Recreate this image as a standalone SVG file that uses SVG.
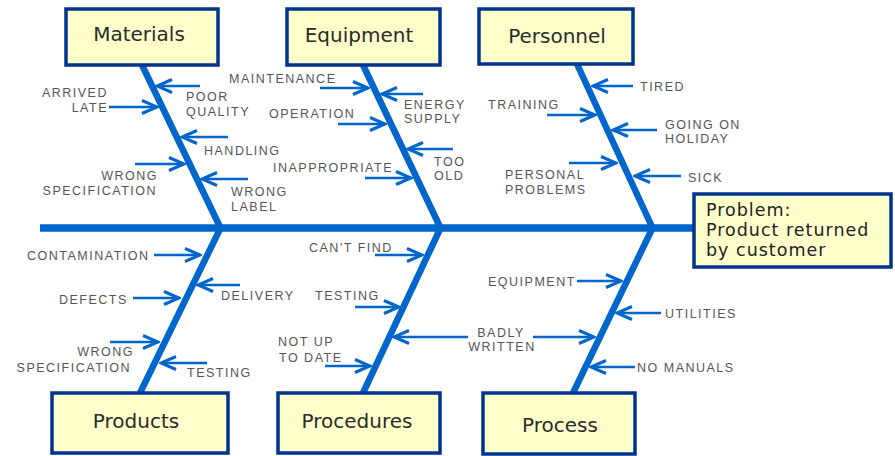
<svg xmlns="http://www.w3.org/2000/svg" width="895" height="456" viewBox="0 0 895 456">
<defs>
<marker id="ah" markerUnits="userSpaceOnUse" markerWidth="20" markerHeight="20" viewBox="-18 -10 20 20" refX="0" refY="0" orient="auto">
<path d="M-15,-6.5 L0,0 L-15,6.5" fill="none" stroke="#0066cc" stroke-width="3" stroke-linejoin="miter"/>
</marker>
<style>
.box{fill:#ffffcc;stroke:#00338f;stroke-width:3.5}
.title{font-family:"DejaVu Sans","Liberation Sans",sans-serif;font-size:20px;fill:#2b2b2b;text-anchor:middle}
.prob{font-family:"DejaVu Sans","Liberation Sans",sans-serif;font-size:17.5px;fill:#222;letter-spacing:1px}
.bone{stroke:#0066cc;stroke-width:6.5;fill:none;stroke-linecap:butt}
.spine{stroke:#0066cc;stroke-width:7.5;fill:none}
.arr{stroke:#0066cc;stroke-width:2.5;fill:none;marker-end:url(#ah)}
.lbl{font-family:"Liberation Sans",Arial,sans-serif;font-size:12.5px;fill:#555;letter-spacing:1.5px}
.e{text-anchor:end}
.m{text-anchor:middle}
</style>
</defs>
<rect width="895" height="456" fill="#ffffff"/>

<g id="connectors">
<line class="spine" x1="40" y1="228" x2="694" y2="228"/>
<line class="bone" x1="142" y1="65" x2="221" y2="229"/>
<line class="bone" x1="363" y1="65" x2="441" y2="229"/>
<line class="bone" x1="577" y1="64" x2="653" y2="229"/>
<line class="bone" x1="221" y1="227" x2="140" y2="393"/>
<line class="bone" x1="441" y1="227" x2="363" y2="393"/>
<line class="bone" x1="653" y1="227" x2="573" y2="393"/>

<line class="arr" x1="200" y1="86" x2="157" y2="86"/>
<line class="arr" x1="109" y1="107" x2="157" y2="107"/>
<line class="arr" x1="228" y1="137" x2="182" y2="137"/>
<line class="arr" x1="135" y1="164" x2="184" y2="164"/>
<line class="arr" x1="248" y1="179" x2="202" y2="179"/>

<line class="arr" x1="320" y1="88" x2="368" y2="88"/>
<line class="arr" x1="423" y1="94" x2="382" y2="94"/>
<line class="arr" x1="338" y1="124" x2="385" y2="124"/>
<line class="arr" x1="453" y1="149" x2="408" y2="149"/>
<line class="arr" x1="365" y1="178" x2="411" y2="178"/>

<line class="arr" x1="633" y1="86" x2="593" y2="86"/>
<line class="arr" x1="547" y1="115" x2="595" y2="115"/>
<line class="arr" x1="657" y1="130" x2="613" y2="130"/>
<line class="arr" x1="569" y1="163" x2="616" y2="163"/>
<line class="arr" x1="681" y1="176" x2="635" y2="176"/>

<line class="arr" x1="154" y1="255" x2="200" y2="255"/>
<line class="arr" x1="240" y1="285" x2="198" y2="285"/>
<line class="arr" x1="133" y1="298" x2="179" y2="298"/>
<line class="arr" x1="110" y1="342" x2="158" y2="342"/>
<line class="arr" x1="207" y1="363" x2="161" y2="363"/>

<line class="arr" x1="375" y1="255" x2="422" y2="255"/>
<line class="arr" x1="355" y1="307" x2="399" y2="307"/>
<line class="arr" x1="468" y1="337" x2="394" y2="337"/>
<line class="arr" x1="325" y1="366" x2="370" y2="366"/>

<line class="arr" x1="577" y1="281" x2="621" y2="281"/>
<line class="arr" x1="661" y1="313" x2="617" y2="313"/>
<line class="arr" x1="533" y1="337" x2="594" y2="337"/>
<line class="arr" x1="635" y1="367" x2="591" y2="367"/>
</g>

<g id="node-materials"><rect class="box" x="66" y="9" width="152" height="56"/><text class="title" x="139" y="41">Materials</text></g>
<g id="node-equipment"><rect class="box" x="287" y="9" width="153" height="56"/><text class="title" x="359" y="42">Equipment</text></g>
<g id="node-personnel"><rect class="box" x="479" y="9" width="154" height="55"/><text class="title" x="557" y="43">Personnel</text></g>
<g id="node-products"><rect class="box" x="52" y="393" width="176" height="60"/><text class="title" x="136" y="428">Products</text></g>
<g id="node-procedures"><rect class="box" x="278" y="393" width="162" height="60"/><text class="title" x="357" y="428">Procedures</text></g>
<g id="node-process"><rect class="box" x="483" y="393" width="152" height="61"/><text class="title" x="560" y="432">Process</text></g>
<g id="node-problem"><rect class="box" x="694" y="194" width="197" height="73"/>
<text class="prob" x="706" y="216">Problem:</text>
<text class="prob" x="706" y="236">Product returned</text>
<text class="prob" x="706" y="256">by customer</text></g>

<g id="labels">
<text class="lbl e" x="108" y="97">ARRIVED</text>
<text class="lbl e" x="108" y="112">LATE</text>
<text class="lbl" x="186" y="101">POOR</text>
<text class="lbl" x="186" y="116">QUALITY</text>
<text class="lbl" x="204" y="155">HANDLING</text>
<text class="lbl e" x="158" y="180">WRONG</text>
<text class="lbl e" x="157" y="195">SPECIFICATION</text>
<text class="lbl" x="231" y="196">WRONG</text>
<text class="lbl" x="231" y="211">LABEL</text>

<text class="lbl" x="229" y="83">MAINTENANCE</text>
<text class="lbl" x="404" y="109">ENERGY</text>
<text class="lbl" x="404" y="123">SUPPLY</text>
<text class="lbl" x="269" y="118">OPERATION</text>
<text class="lbl" x="434" y="166">TOO</text>
<text class="lbl" x="434" y="180">OLD</text>
<text class="lbl" x="273" y="172">INAPPROPRIATE</text>

<text class="lbl" x="640" y="91">TIRED</text>
<text class="lbl" x="488" y="109">TRAINING</text>
<text class="lbl" x="665" y="129">GOING ON</text>
<text class="lbl" x="665" y="143">HOLIDAY</text>
<text class="lbl" x="505" y="179">PERSONAL</text>
<text class="lbl" x="505" y="194">PROBLEMS</text>
<text class="lbl" x="688" y="182">SICK</text>

<text class="lbl" x="27" y="260">CONTAMINATION</text>
<text class="lbl" x="221" y="300">DELIVERY</text>
<text class="lbl" x="59" y="304">DEFECTS</text>
<text class="lbl e" x="134" y="356">WRONG</text>
<text class="lbl e" x="131" y="372">SPECIFICATION</text>
<text class="lbl" x="187" y="377">TESTING</text>

<text class="lbl" x="309" y="252">CAN'T FIND</text>
<text class="lbl" x="315" y="300">TESTING</text>
<text class="lbl m" x="501" y="337">BADLY</text>
<text class="lbl m" x="502" y="351">WRITTEN</text>
<text class="lbl" x="278" y="346">NOT UP</text>
<text class="lbl" x="279" y="362">TO DATE</text>

<text class="lbl" x="488" y="286">EQUIPMENT</text>
<text class="lbl" x="665" y="318">UTILITIES</text>
<text class="lbl" x="637" y="372">NO MANUALS</text>
</g>
</svg>
